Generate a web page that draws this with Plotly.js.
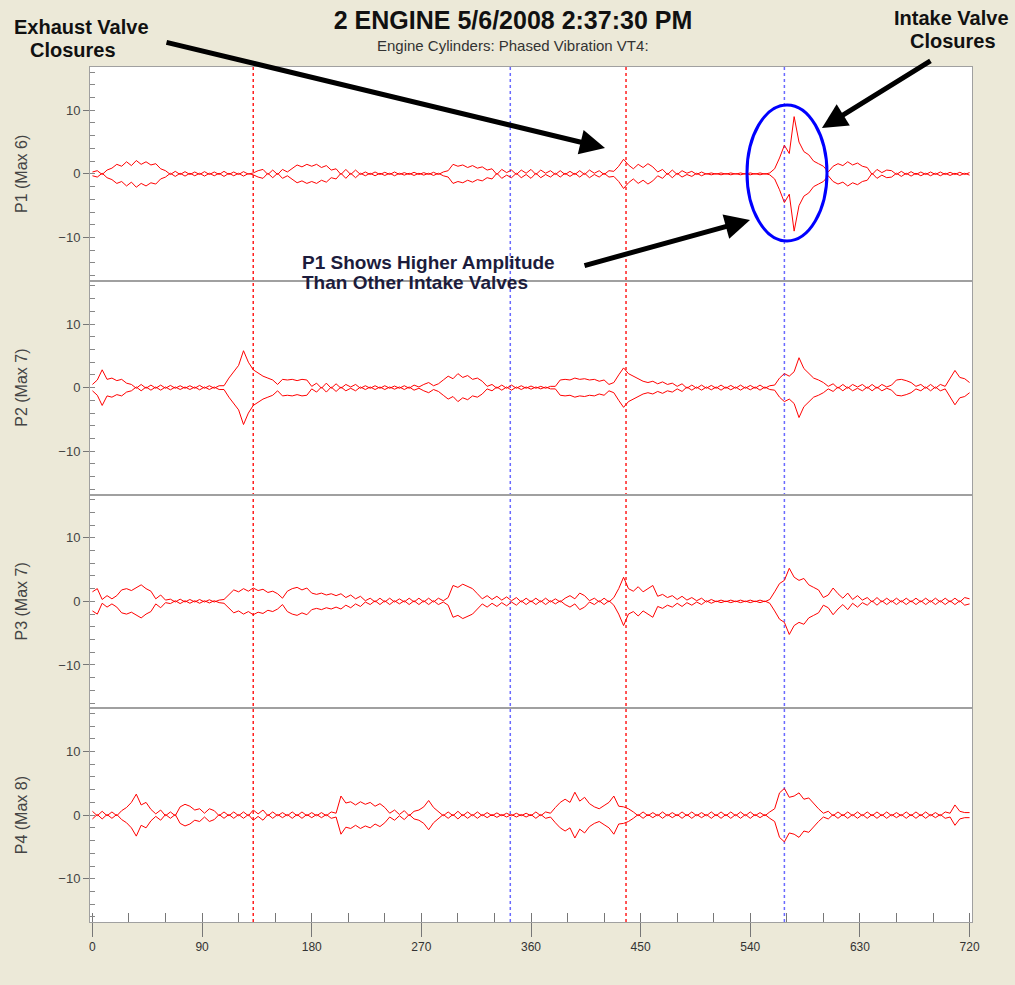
<!DOCTYPE html>
<html><head><meta charset="utf-8">
<script src="https://cdn.plot.ly/plotly-3.0.1.min.js"></script>
<style>html,body{margin:0;padding:0;background:#ece9d8;}#chart{width:1015px;height:985px;}</style>
</head><body><div id="chart"></div>
<script>
// crank angle (degrees) of each sample
const angles = [
0,4,8,12,16,20,24,28,32,36,
40,44,48,52,56,60,64,68,72,76,
80,84,88,92,96,100,104,108,112,116,
120,124,128,132,136,140,144,148,152,156,
160,164,168,172,176,180,184,188,192,196,
200,204,208,212,216,220,224,228,232,236,
240,244,248,252,256,260,264,268,272,276,
280,284,288,292,296,300,304,308,312,316,
320,324,328,332,336,340,344,348,352,356,
360,364,368,372,376,380,384,388,392,396,
400,404,408,412,416,420,424,428,432,436,
440,444,448,452,456,460,464,468,472,476,
480,484,488,492,496,500,504,508,512,516,
520,524,528,532,536,540,544,548,552,556,
560,564,568,572,576,580,584,588,592,596,
600,604,608,612,616,620,624,628,632,636,
640,644,648,652,656,660,664,668,672,676,
680,684,688,692,696,700,704,708,712,716,
720];

// vibration envelope amplitude per cylinder (negative = envelope crossing)
const p1Amp = [
0.3,0.5,-0.1,0.6,0.9,1.5,1.2,1.9,1.3,2.1,
1.5,1.9,1.4,1.6,0.8,0.5,-0.1,0.4,-0.1,0.35,
-0.1,0.3,-0.1,0.35,-0.1,0.3,-0.1,0.4,-0.1,0.3,
-0.1,0.35,-0.05,0.15,0.5,0.7,-0.1,0.6,-0.1,0.7,
0.3,0.8,1.4,1.1,1.5,1.2,1.5,1.0,1.3,0.6,
0.8,-0.1,0.7,-0.1,0.6,-0.1,0.3,-0.1,0.3,-0.1,
0.25,-0.1,0.3,-0.1,0.2,-0.1,0.25,-0.1,0.2,-0.1,
0.25,-0.1,0.3,0.5,1.5,1.2,1.4,1.0,1.3,0.9,
1.1,0.6,0.8,-0.1,0.7,0.2,0.6,-0.1,0.6,0.1,
0.7,-0.1,0.6,0.1,0.5,-0.1,0.5,-0.1,0.4,-0.1,
0.5,-0.1,0.6,0.1,0.5,-0.1,0.5,0.4,1.2,2.3,
1.4,0.8,1.5,1.0,1.6,1.1,0.3,0.7,-0.1,0.6,
-0.1,0.5,0.1,0.4,-0.1,0.3,-0.05,0.15,-0.05,0.15,
-0.05,0.15,-0.05,0.15,-0.05,0.15,-0.05,0.15,-0.05,0.15,
0.8,2.5,4.5,3.2,9.0,5.0,3.5,3.0,2.0,1.6,
1.2,0.3,1.2,1.6,1.3,1.9,1.4,1.7,1.2,1.0,
-0.1,0.7,0.2,0.6,0.5,-0.1,0.4,-0.1,0.35,-0.1,
0.3,-0.1,0.3,-0.1,0.3,-0.1,0.25,-0.1,0.25,-0.1,
0.2];

const p2Amp = [
0.5,1.2,2.8,1.3,1.5,1.1,1.3,0.7,0.5,-0.1,
0.5,-0.1,0.4,-0.1,0.4,-0.1,0.35,-0.1,0.3,-0.1,
0.3,-0.1,0.35,-0.1,0.3,-0.1,0.3,0.3,1.5,2.5,
3.5,5.8,4.0,2.8,2.3,1.8,1.5,1.2,0.5,1.3,
1.2,1.3,1.1,1.3,1.2,0.2,0.7,-0.1,0.7,-0.1,
0.6,-0.1,0.5,0.1,0.5,-0.1,0.3,-0.1,0.3,-0.1,
0.3,-0.1,0.25,-0.1,0.3,-0.1,0.4,0.1,0.5,0.8,
0.3,0.6,1.2,1.8,1.4,2.2,1.6,1.9,1.3,1.5,
1.0,0.2,0.5,-0.1,0.4,-0.1,0.4,-0.1,0.3,-0.1,
0.25,-0.1,0.2,-0.1,0.2,0.2,1.2,1.3,1.2,1.5,
1.3,1.4,1.2,1.3,1.0,1.2,0.5,0.8,2.0,3.1,
2.2,1.8,1.4,1.0,0.8,1.0,0.6,0.9,0.5,0.7,
0.2,0.6,-0.1,0.4,-0.1,0.4,-0.1,0.35,-0.1,0.4,
-0.1,0.35,-0.1,0.4,-0.1,0.35,-0.1,0.4,-0.1,0.3,
0.4,1.5,2.2,1.8,2.5,4.7,3.0,2.2,1.5,1.2,
0.8,0.2,0.6,-0.1,0.5,-0.1,0.5,0.1,0.5,-0.1,
0.5,-0.1,0.5,0.1,0.4,1.2,1.3,1.1,0.8,0.2,
0.5,-0.1,0.5,-0.1,0.5,0.2,1.5,2.7,1.6,1.4,
0.8];

const p3Amp = [
1.5,2.0,0.3,0.9,0.4,0.9,1.8,2.0,1.7,2.2,
2.6,2.0,1.6,0.4,1.0,0.2,0.35,-0.1,0.35,-0.1,
0.3,-0.1,0.3,-0.1,0.25,-0.1,0.2,0.3,1.0,1.8,
1.5,2.0,1.6,2.1,1.7,1.9,1.4,1.6,1.2,0.5,
1.6,2.0,2.2,1.8,2.1,1.3,1.1,1.3,1.0,1.2,
0.9,1.2,0.6,1.0,0.4,0.8,0.1,0.5,-0.1,0.5,
-0.1,0.5,-0.1,0.4,-0.1,0.5,-0.1,0.5,-0.1,0.5,
-0.1,0.5,0.1,0.6,2.5,2.2,2.7,2.3,2.0,1.2,
0.4,0.9,0.3,0.8,0.2,0.7,0.1,0.6,-0.1,0.5,
-0.1,0.5,-0.1,0.5,-0.1,0.4,-0.1,0.5,0.9,0.4,
1.3,0.9,0.1,0.5,-0.1,0.5,-0.1,0.6,2.0,3.8,
2.0,1.6,2.3,1.5,2.0,2.5,0.8,1.1,0.6,0.9,
0.3,0.8,0.2,0.6,0.1,0.5,-0.1,0.3,-0.05,0.2,
-0.05,0.2,-0.05,0.2,-0.05,0.2,-0.05,0.2,-0.05,0.3,
1.5,2.8,3.3,5.2,3.8,3.3,3.6,2.6,2.2,1.8,
0.6,1.0,2.1,1.2,0.5,1.3,0.3,0.9,0.2,0.6,
-0.1,0.6,-0.1,0.5,-0.1,0.5,-0.1,0.5,-0.1,0.5,
-0.1,0.5,-0.1,0.5,-0.1,0.5,-0.1,0.5,-0.1,0.6,
0.4];

const p4Amp = [
0.6,-0.1,0.6,-0.1,0.5,-0.1,0.7,1.2,2.0,3.3,
1.6,2.0,0.9,0.2,0.8,-0.1,0.5,-0.1,1.3,1.7,
1.4,0.8,1.0,0.3,1.0,0.7,-0.1,0.5,-0.1,0.5,
-0.1,0.5,-0.1,0.8,0.2,0.8,-0.1,0.5,-0.1,0.4,
-0.1,0.5,-0.1,0.5,-0.1,0.4,-0.1,0.4,-0.1,0.5,
0.3,3.0,1.9,2.1,1.6,2.1,1.7,2.0,1.4,1.8,
1.2,0.3,0.8,0.1,0.7,-0.1,0.6,0.8,1.3,2.3,
1.2,0.6,-0.1,0.5,-0.1,0.6,-0.1,0.5,-0.1,0.5,
-0.1,0.4,-0.1,0.35,-0.1,0.3,-0.1,0.3,-0.1,0.3,
-0.1,0.5,-0.1,0.5,0.3,1.2,2.0,2.5,2.0,3.6,
2.2,2.8,1.8,1.3,1.0,1.5,2.0,3.0,1.4,1.3,
1.0,0.5,-0.1,0.5,-0.1,0.4,-0.1,0.5,-0.1,0.4,
-0.1,0.5,-0.1,0.5,-0.1,0.4,-0.1,0.5,-0.1,0.5,
-0.1,0.5,-0.1,0.5,-0.1,0.5,-0.1,0.4,-0.1,0.5,
1.0,3.5,4.2,2.8,3.0,3.5,2.5,2.7,1.8,1.0,
0.3,0.6,-0.1,0.5,-0.1,0.5,-0.1,0.5,-0.1,0.5,
-0.1,0.5,-0.1,0.5,-0.1,0.4,-0.1,0.5,-0.1,0.5,
-0.1,0.5,-0.1,0.4,-0.1,0.5,0.3,1.6,0.6,0.4,
0.4];

const panelTitles = ['P1 (Max 6)', 'P2 (Max 7)', 'P3 (Max 7)', 'P4 (Max 8)'];
const exhaustClosures = [132, 438];   // red dashed markers
const intakeClosures = [343, 568];    // blue dashed markers
const xTicks = [0, 90, 180, 270, 360, 450, 540, 630, 720];
const yTicks = [-10, 0, 10];

const amps = [p1Amp, p2Amp, p3Amp, p4Amp];
const axisIds = ['', '2', '3', '4'];

const traces = amps.map((a, i) => ({
  type: 'scatter', mode: 'lines',
  x: angles.concat([null]).concat(angles),
  y: a.concat([null]).concat(a.map(v => -v)),
  xaxis: 'x' + axisIds[i], yaxis: 'y' + axisIds[i],
  line: {color: '#ff0000', width: 1},
  hoverinfo: 'skip', showlegend: false
}));

const FONT = 'Liberation Sans, Arial, sans-serif';
const layout = {
  width: 1015, height: 985,
  paper_bgcolor: '#ece9d8', plot_bgcolor: '#ffffff',
  margin: {l: 90, r: 43, t: 67, b: 63},
  font: {family: FONT, color: '#333333'},
  showlegend: false,
  title: {text: '<b>2 ENGINE 5/6/2008 2:37:30 PM</b>', font: {size: 25, color: '#111'},
          x: 0.4796, xref: 'paper', y: 0.9797, yanchor: 'middle', xanchor: 'center'},
  shapes: [], annotations: []
};

const domains = [[0.75, 1], [0.5, 0.75], [0.25, 0.5], [0, 0.25]];
for (let i = 0; i < 4; i++) {
  const id = axisIds[i];
  const bottom = i === 3;
  layout['xaxis' + id] = {
    domain: [0, 1], anchor: 'y' + id, range: [-2, 722],
    showline: true, mirror: true, linecolor: '#a0a0a0', linewidth: 1,
    showgrid: false, zeroline: false,
    tickvals: bottom ? xTicks : [], showticklabels: bottom,
    ticks: bottom ? 'outside' : '', ticklen: 14, tickcolor: '#777',
    tickfont: {size: 12, color: '#333'},
    minor: bottom ? {dtick: 30, tick0: 0, ticks: 'inside', ticklen: 9, tickcolor: '#777'} : undefined
  };
  layout['yaxis' + id] = {
    domain: domains[i], anchor: 'x' + id, range: [-16.8, 16.8],
    showline: true, mirror: true, linecolor: '#a0a0a0', linewidth: 1,
    showgrid: false, zeroline: false,
    tickvals: yTicks, ticks: 'outside', ticklen: 6, tickcolor: '#777',
    tickfont: {size: 13, color: '#444'},
    minor: {dtick: 2, tick0: 0, ticks: 'inside', ticklen: 5, tickcolor: '#888'},
    title: {text: panelTitles[i], font: {size: 16, color: '#444'}, standoff: 26}
  };
}

exhaustClosures.forEach(x => layout.shapes.push({type: 'line', xref: 'x', yref: 'paper', x0: x, x1: x, y0: 0, y1: 1,
  line: {color: '#ff2020', width: 1.5, dash: 'dot'}, layer: 'below'}));
intakeClosures.forEach(x => layout.shapes.push({type: 'line', xref: 'x', yref: 'paper', x0: x, x1: x, y0: 0, y1: 1,
  line: {color: '#6a6aff', width: 1.5, dash: 'dot'}, layer: 'below'}));

// highlight ellipse around P1 intake closure
layout.shapes.push({type: 'circle', xref: 'paper', yref: 'paper', x0: 0.7449, x1: 0.8356, y0: 0.7965, y1: 0.9556,
  line: {color: '#0000ff', width: 3}});

function label(text, x, y, size, color, anchor) {
  return {xref: 'paper', yref: 'paper', x: x, y: y, text: text, showarrow: false,
          font: {size: size, color: color}, xanchor: anchor, yanchor: 'middle'};
}
layout.annotations.push(
  label('Engine Cylinders: Phased Vibration VT4:', 0.4796, 1.0246, 15, '#333', 'center'),
  label('<b>Exhaust Valve</b>', -0.0091, 1.0468, 20, '#111', 'center'),
  label('<b>Closures</b>', -0.0193, 1.0199, 20, '#111', 'center'),
  label('<b>Intake Valve</b>', 0.9762, 1.0573, 20, '#111', 'center'),
  label('<b>Closures</b>', 0.9785, 1.0304, 20, '#111', 'center'),
  label('<b>P1 Shows Higher Amplitude</b>', 0.2381, 0.7719, 19, '#1c1c3c', 'left'),
  label('<b>Than Other Intake Valves</b>', 0.2381, 0.7474, 19, '#1c1c3c', 'left'),
  {xref: 'paper', yref: 'paper', x: 0.5839, y: 0.9053, ax: -440, ay: -106, text: '', showarrow: true,
   arrowhead: 2, arrowsize: 1, arrowwidth: 5, arrowcolor: '#000'},
  {xref: 'paper', yref: 'paper', x: 0.8299, y: 0.9287, ax: 110, ay: -68, text: '', showarrow: true,
   arrowhead: 2, arrowsize: 1, arrowwidth: 5, arrowcolor: '#000'},
  {xref: 'paper', yref: 'paper', x: 0.7483, y: 0.8211, ax: -167, ay: 46, text: '', showarrow: true,
   arrowhead: 2, arrowsize: 1, arrowwidth: 5, arrowcolor: '#000'}
);

Plotly.newPlot('chart', traces, layout, {displayModeBar: false, staticPlot: true});
</script>
</body></html>
